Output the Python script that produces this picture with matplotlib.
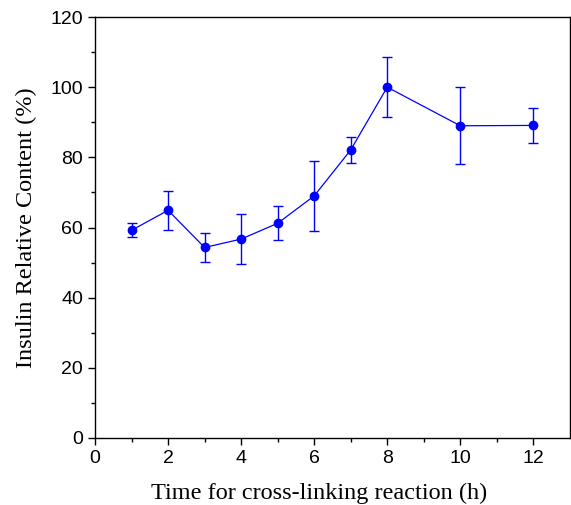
import numpy as np
import matplotlib.pyplot as plt

# ---- data ----
hours = [1, 2, 3, 4, 5, 6, 7, 8, 10, 12]
content = [59.2, 64.9, 54.3, 56.7, 61.2, 69.0, 82.1, 100.0, 89.0, 89.1]
err = [2.0, 5.5, 4.0, 7.2, 4.8, 10.0, 3.7, 8.5, 11.0, 5.0]

fig = plt.figure(figsize=(5.71, 5.05), dpi=100)
ax = fig.add_axes([0.1664, 0.1327, 0.8316, 0.8336])

ax.errorbar(hours, content, yerr=err, color='blue', marker='o', markersize=6,
            linewidth=0.9, elinewidth=1.0, capsize=3.5, capthick=1.0)

ax.set_xlim(0, 13)
ax.set_ylim(0, 120)
ax.set_xticks(np.arange(0, 13, 2))
ax.set_xticks(np.arange(1, 13, 2), minor=True)
ax.set_yticks(np.arange(0, 121, 20))
ax.set_yticks(np.arange(10, 120, 20), minor=True)
ax.tick_params(which='major', direction='out', length=5, width=1.0,
               labelsize=14)
ax.tick_params(which='minor', direction='out', length=3, width=1.0)
for lbl in ax.get_xticklabels() + ax.get_yticklabels():
    lbl.set_family('Liberation Sans')
for s in ax.spines.values():
    s.set_linewidth(1.0)

ax.set_xlabel('Time for cross-linking reaction (h)', family='Liberation Serif',
              fontsize=17.5)
ax.xaxis.set_label_coords(0.472, -0.106)
ax.set_ylabel('Insulin Relative Content (%)', family='Liberation Serif',
              fontsize=17.5, labelpad=10)

fig.savefig('out.png', dpi=100)
